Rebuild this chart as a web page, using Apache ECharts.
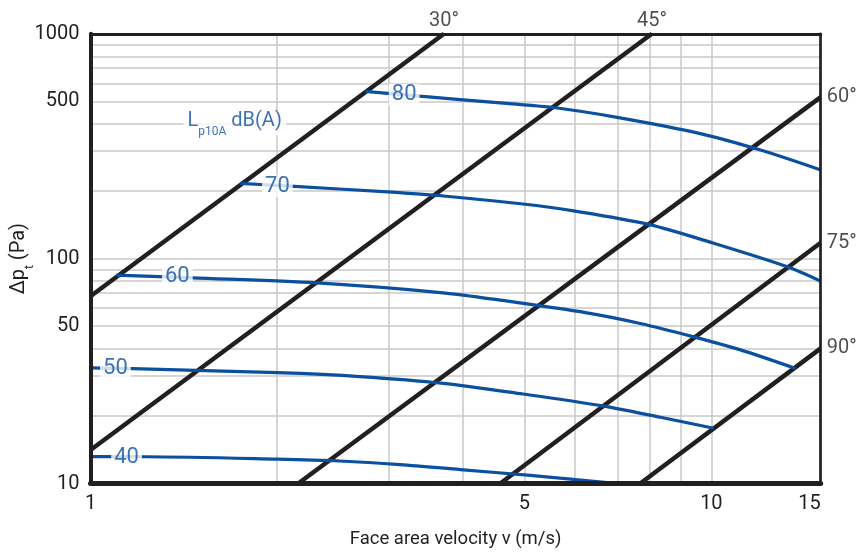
<!DOCTYPE html>
<html><head><meta charset="utf-8">
<script src="https://cdn.jsdelivr.net/npm/echarts@6/dist/echarts.min.js"></script>
<style>html,body{margin:0;padding:0;background:#fff}#c{width:861px;height:554px}</style>
</head><body><div id="c"></div>
<script>
// ---- data ----
const xTickLabels = [1, 5, 10, 15];
const yTickLabels = [10, 50, 100, 500, 1000];
const xGridValues = [2, 3, 4, 5, 6, 7, 8, 9, 10];
const yGridValues = [20, 30, 40, 50, 60, 70, 80, 90, 100, 200, 300, 400, 500, 600, 700, 800, 900];

const angleNames = ['30°', '45°', '60°', '75°', '90°'];
const angle30 = [[1, 68], [3.71, 1000]];
const angle45 = [[1, 14.1], [8.02, 1000]];
const angle60 = [[2.16, 10], [15, 523]];
const angle75 = [[4.57, 10], [15, 117.6]];
const angle90 = [[7.68, 10], [15, 39.9]];

const levelNames = ['80', '70', '60', '50', '40'];
const level80 = [[2.77, 555], [3.39, 528], [4.68, 490], [5.57, 470], [7.05, 425], [9.6, 360], [12.0, 304], [15, 248]];
const level70 = [[1.743, 216], [2.10, 210], [3.01, 198], [3.7, 190], [4.97, 175], [6.0, 163], [7.92, 142], [10.09, 117], [13.25, 92], [15, 79.4]];
const level60 = [[1.10, 84.5], [1.46, 82.1], [2.32, 78], [3.7, 70.5], [4.57, 65.4], [6.3, 57.4], [7.68, 51.5], [9.37, 44.9], [11.14, 39.3], [13.66, 32.5]];
const level50 = [[1, 32.7], [1.169, 32.4], [2.0, 31.1], [2.716, 29.9], [3.7, 27.9], [4.97, 25.0], [6.7, 22.1], [8.28, 19.7], [10.09, 17.6]];
const level40 = [[1, 13.16], [1.227, 13.15], [2.0, 12.83], [2.52, 12.59], [3.15, 12.14], [3.94, 11.53], [5.11, 10.86], [7.05, 10]];
const levelLabelPos = [[3.2, 535], [2.0, 210], [1.38, 83], [1.097, 32.6], [1.143, 13.0]];
const legendPos = [1.707, 400];

// ---- chart ----
const L = v => Math.log10(v);
const tr = arr => arr.map(p => [L(p[0]), L(p[1])]);
const BLUE = '#0b4f9f', BLACK = '#231f20', GRID = '#c9c9c9';
const FONT = 'Roboto, "DejaVu Sans", sans-serif';
const angles = [angle30, angle45, angle60, angle75, angle90];
const levels = [level80, level70, level60, level50, level40];

const series = [];
angles.forEach((a, i) => {
  const s = { type: 'line', data: tr(a), symbol: 'none', silent: true, z: 3,
    lineStyle: { color: BLACK, width: 4.5 } };
  if (i === 0) {
    s.markLine = { silent: true, z: 1, symbol: 'none', label: { show: false },
      lineStyle: { color: GRID, width: 1.5, type: 'solid' },
      emphasis: { disabled: true },
      data: [...xGridValues.map(v => ({ xAxis: L(v) })), ...yGridValues.map(v => ({ yAxis: L(v) }))] };
  }
  series.push(s);
});
levels.forEach(l => series.push({ type: 'line', data: tr(l), smooth: 0.3, symbol: 'none', silent: true, z: 4,
  lineStyle: { color: BLUE, width: 3.2 } }));
series.push({ type: 'scatter', symbolSize: 0, z: 6, clip: false, silent: true,
  data: angles.map((a, i) => ({ name: angleNames[i], value: tr(a)[1],
    label: { position: i < 2 ? 'top' : 'right', distance: i < 2 ? 3 : 6 } })),
  label: { show: true, formatter: '{b}', color: BLACK, fontSize: 20, fontFamily: FONT } });
series.push({ type: 'scatter', symbolSize: 0, z: 7, clip: false, silent: true,
  data: levelLabelPos.map((p, i) => ({ name: levelNames[i], value: [L(p[0]), L(p[1])] })),
  label: { show: true, position: 'inside', formatter: '{b}', color: BLUE, fontSize: 22, fontFamily: FONT,
    backgroundColor: '#fff', padding: [0, 3], lineHeight: 22 } });
series.push({ type: 'scatter', symbolSize: 0, z: 7, clip: false, silent: true,
  data: [{ value: [L(legendPos[0]), L(legendPos[1])] }],
  label: { show: true, position: 'inside', formatter: '{a|L}{s|p10A}{a| dB(A)}',
    backgroundColor: '#fff', padding: [0, 4],
    rich: {
      a: { color: BLUE, fontSize: 20, fontFamily: FONT, lineHeight: 24, verticalAlign: 'top' },
      s: { color: BLUE, fontSize: 12, fontFamily: FONT, lineHeight: 12, padding: [18, 0, 0, 0] }
    } } });

const chart = echarts.init(document.getElementById('c'), null, { renderer: 'canvas' });
chart.setOption({
  animation: false,
  backgroundColor: '#fff',
  grid: { left: 90.5, right: 40.3, top: 33.8, bottom: 70.5, containLabel: false, outerBoundsMode: 'none' },
  xAxis: [
    { type: 'value', min: 0, max: L(15), position: 'bottom', z: 10,
      axisLine: { show: true, onZero: false, lineStyle: { color: BLACK, width: 5 } },
      axisTick: { show: false }, splitLine: { show: false },
      axisLabel: { customValues: xTickLabels.map(L), formatter: v => String(Math.round(Math.pow(10, v))),
        color: BLACK, fontSize: 20, fontFamily: FONT, margin: 10, alignMaxLabel: 'right' },
      name: 'Face area velocity v (m/s)', nameLocation: 'middle', nameGap: 46, nameMoveOverlap: false,
      nameTextStyle: { color: BLACK, fontSize: 18.5, fontFamily: FONT } },
    { type: 'value', min: 0, max: L(15), position: 'top', z: 10,
      axisLine: { show: true, onZero: false, lineStyle: { color: BLACK, width: 3 } },
      axisTick: { show: false }, axisLabel: { show: false }, splitLine: { show: false } }
  ],
  yAxis: [
    { type: 'value', min: 1, max: 3, position: 'left', z: 10,
      axisLine: { show: true, onZero: false, lineStyle: { color: BLACK, width: 4 } },
      axisTick: { show: false }, splitLine: { show: false },
      axisLabel: { customValues: yTickLabels.map(L), formatter: v => String(Math.round(Math.pow(10, v))),
        color: BLACK, fontSize: 20, fontFamily: FONT, margin: 11 },
      name: '{a|Δp}{s|t}{a| (Pa)}', nameLocation: 'middle', nameRotate: 90, nameGap: 58, nameMoveOverlap: false,
      nameTextStyle: { color: BLACK, fontSize: 20, fontFamily: FONT,
        rich: {
          a: { color: BLACK, fontSize: 20, fontFamily: FONT, lineHeight: 24, verticalAlign: 'top' },
          s: { color: BLACK, fontSize: 12, fontFamily: FONT, lineHeight: 12, padding: [18, 0, 0, 0] }
        } } },
    { type: 'value', min: 1, max: 3, position: 'right', z: 10,
      axisLine: { show: true, onZero: false, lineStyle: { color: BLACK, width: 2.7 } },
      axisTick: { show: false }, axisLabel: { show: false }, splitLine: { show: false } }
  ],
  series: series
});
</script>
</body></html>
